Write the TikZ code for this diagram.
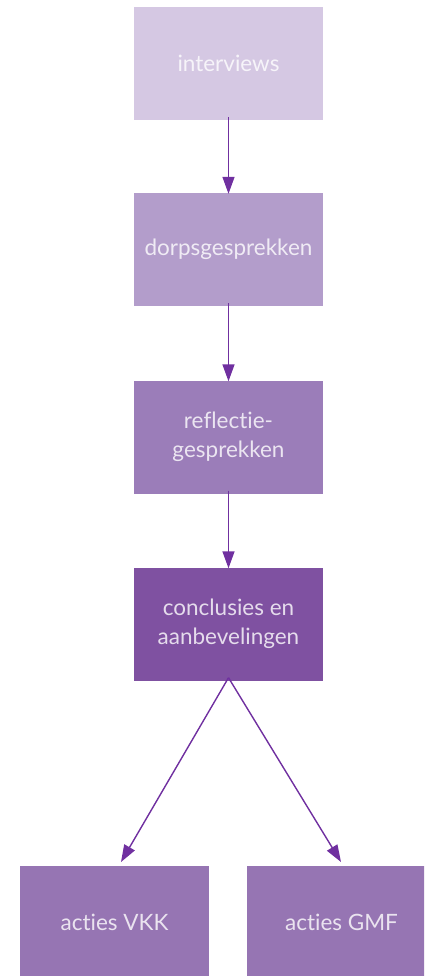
\documentclass[tikz,border=0pt]{standalone}
\usepackage{fontspec}
\setmainfont{Lato}[RawFeature={-liga}]
\usetikzlibrary{arrows.meta}
\definecolor{cA}{HTML}{D5C8E3}
\definecolor{cB}{HTML}{B39DCB}
\definecolor{cC}{HTML}{9B7DB9}
\definecolor{cD}{HTML}{7F51A1}
\definecolor{cE}{HTML}{9675B3}
\definecolor{arr}{HTML}{7030A0}
\begin{document}
\begin{tikzpicture}[x=1pt,y=-1pt,
  box/.style={minimum width=189pt,minimum height=113pt,inner sep=0pt,draw=none,
    text=white,text opacity=0.8,font=\fontsize{22.5}{29}\selectfont,align=center},
  conn/.style={draw=arr,line width=1.4pt,-{Triangle[length=17pt,width=12pt]}}]
\useasboundingbox (0,0) rectangle (424,976);
\clip (0,0) rectangle (424,976);
\node[box,fill=cA] (b1) at (228.5,63.5) {interviews};
\node[box,fill=cB] (b2) at (228.5,249.5) {dorpsgesprekken};
\node[box,fill=cC] (b3) at (228.5,437) {reflectie-\\gesprekken};
\node[box,fill=cD] (b4) at (228.5,624) {conclusies en\\aanbevelingen};
\node[box,fill=cE] (b5) at (114.5,922.5) {acties VKK};
\node[box,fill=cE] (b6) at (341.5,922.5) {acties GMF};
\coordinate (t5) at (121,862);
\coordinate (t6) at (341,862);
\draw[conn] ([yshift=3pt]b1.south) -- ([yshift=-1pt]b2.north);
\draw[conn] ([yshift=3pt]b2.south) -- ([yshift=-1pt]b3.north);
\draw[conn] ([yshift=3pt]b3.south) -- ([yshift=-1pt]b4.north);
\draw[conn] ([yshift=3pt]b4.south) -- (t5);
\draw[conn] ([yshift=3pt]b4.south) -- (t6);
\end{tikzpicture}
\end{document}
